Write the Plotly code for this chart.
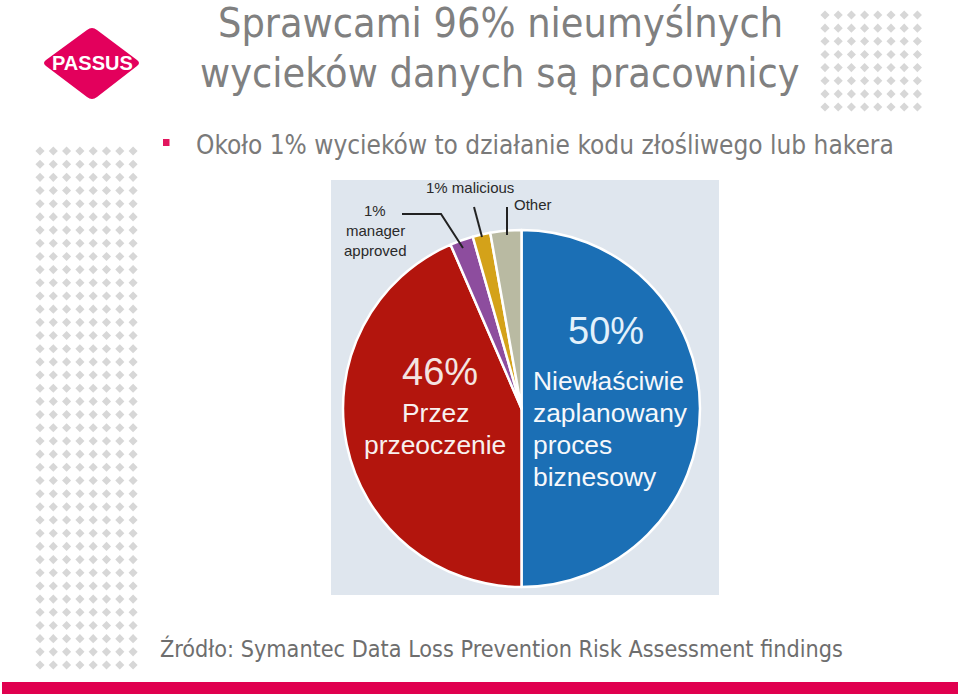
import numpy as np
import plotly.graph_objects as go

# ---- data ----
slice_names = ["Niewłaściwie zaplanowany proces biznesowy", "Przez przeoczenie",
               "1% manager approved", "1% malicious", "Other"]
slice_values = [50, 43.5, 2.1, 1.6, 2.8]   # wedge sizes as drawn in the picture
slice_colors = ["#1b6fb5", "#b3150d", "#8d4d9e", "#d4a219", "#b9baa2"]

title_lines = ["Sprawcami 96% nieumyślnych", "wycieków danych są pracownicy"]
bullet_text = "Około 1% wycieków to działanie kodu złośliwego lub hakera"
source_text = "Źródło: Symantec Data Loss Prevention Risk Assessment findings"
blue_lines = ["Niewłaściwie", "zaplanowany", "proces", "biznesowy"]
red_lines = ["Przez", "przeoczenie"]
manager_lines = ["1%", "manager", "approved"]

W, H = 960, 696
SLIDE_FONT = "DejaVu Sans Condensed, Tahoma, Open Sans, sans-serif"
ARIAL = "Liberation Sans, Arial, sans-serif"

fig = go.Figure()

# decorative dot grids
tx, ty = np.meshgrid(825 + 13.2 * np.arange(8), 15 + 13.15 * np.arange(8))
lx, ly = np.meshgrid(40 + 13.3 * np.arange(8), 151 + 13.18 * np.arange(40))
fig.add_trace(go.Scatter(
    x=np.concatenate([tx.ravel(), lx.ravel()]),
    y=np.concatenate([ty.ravel(), ly.ravel()]),
    mode="markers", marker=dict(symbol="diamond", size=7, color="#d7d7d7"),
    hoverinfo="skip", showlegend=False))

# pie
fig.add_trace(go.Pie(
    labels=slice_names, values=slice_values, sort=False, direction="clockwise",
    rotation=0, marker=dict(colors=slice_colors, line=dict(color="white", width=2.5)),
    textinfo="none", hoverinfo="skip", showlegend=False,
    domain=dict(x=[343 / W, 700 / W], y=[1 - 587 / H, 1 - 230 / H])))

shapes = [
    dict(type="rect", x0=331, x1=719, y0=180, y1=595, fillcolor="#dfe6ee",
         line=dict(width=0), layer="below"),
    dict(type="rect", x0=163, x1=169.5, y0=139, y1=146, fillcolor="#e2165e",
         line=dict(width=0)),
    dict(type="rect", x0=2, x1=958, y0=682, y1=694, fillcolor="#e0004f",
         line=dict(width=0)),
    dict(type="path",
         path="M 46 60 Q 42 63 46 66 L 87 97 Q 92 101 97 97 L 137 66 Q 141 63 137 60 "
              "L 97 30 Q 92 26 87 30 Z",
         fillcolor="#e3005c", line=dict(width=0)),
    dict(type="path", path="M 402 214 L 441 214 L 463 248",
         line=dict(color="#222222", width=2)),
    dict(type="path", path="M 474 207 L 482 237", line=dict(color="#222222", width=2)),
    dict(type="path", path="M 507 207 L 507 235", line=dict(color="#222222", width=2)),
]

ann = []
def txt(x, y, s, size, color, family, xanchor="center", bold=False):
    ann.append(dict(x=x, y=y, xref="x", yref="y", text=f"<b>{s}</b>" if bold else s,
                    showarrow=False, xanchor=xanchor, yanchor="middle",
                    font=dict(size=size, color=color, family=family)))

txt(500, 23, title_lines[0], 41, "#808080", SLIDE_FONT)
txt(500, 73, title_lines[1], 41, "#808080", SLIDE_FONT)
txt(194, 145, bullet_text, 26, "#7a7a7a", SLIDE_FONT, xanchor="left")
txt(158, 648, source_text, 23.2, "#6e6e6e", SLIDE_FONT, xanchor="left")
txt(92, 63, "PASSUS", 20, "white", ARIAL, bold=True)

txt(606, 331, "50%", 38, "#e3f1fb", ARIAL)
txt(440, 372, "46%", 38, "#f4e4e1", ARIAL)
for i, s in enumerate(blue_lines):
    txt(531, 381 + 32 * i, s, 26.4, "#f6f8fb", ARIAL, xanchor="left")
for i, s in enumerate(red_lines):
    txt(435, 413 + 32 * i, s, 26.4, "#f8f0ef", ARIAL)
for i, s in enumerate(manager_lines):
    txt(375, 210 + 20 * i, s, 15, "#2a2a2a", ARIAL)
txt(470, 187, "1% malicious", 15, "#2a2a2a", ARIAL)
txt(533, 204, "Other", 15, "#2a2a2a", ARIAL)

fig.update_layout(
    width=W, height=H, margin=dict(l=0, r=0, t=0, b=0),
    paper_bgcolor="white", plot_bgcolor="rgba(0,0,0,0)",
    xaxis=dict(range=[0, W], visible=False, fixedrange=True, domain=[0, 1]),
    yaxis=dict(range=[H, 0], visible=False, fixedrange=True, domain=[0, 1]),
    shapes=shapes, annotations=ann, showlegend=False)

fig.write_html("out.html")
